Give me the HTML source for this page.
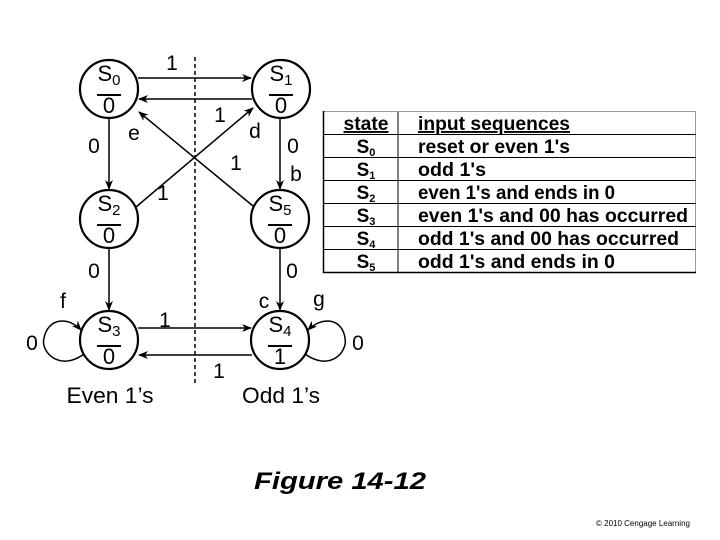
<!DOCTYPE html>
<html><head><style>body{margin:0;background:#fff}svg{display:block}</style></head><body>
<svg width="720" height="540" xmlns="http://www.w3.org/2000/svg" font-family="Liberation Sans, Arial, sans-serif">
<defs><marker id="a" markerWidth="10" markerHeight="8" refX="9" refY="4" orient="auto" markerUnits="userSpaceOnUse"><path d="M0,0 L10,4 L0,8 L3,4z" fill="#000"/></marker></defs>
<g stroke="#000" stroke-width="2.2" fill="none">
<circle cx="109" cy="89" r="29"/><circle cx="281" cy="89" r="29"/>
<circle cx="109" cy="219" r="29"/><circle cx="280" cy="219" r="29"/>
<circle cx="109" cy="340" r="29"/><circle cx="280" cy="340" r="29"/>
</g>
<line x1="195" y1="57" x2="195" y2="384" stroke="#000" stroke-width="1.5" stroke-dasharray="4,3"/>
<g stroke="#000" stroke-width="1.5" fill="none" marker-end="url(#a)">
<line x1="138" y1="78" x2="251" y2="78"/>
<line x1="252" y1="99" x2="139" y2="99"/>
<line x1="136" y1="207" x2="253" y2="108"/>
<line x1="253" y1="206" x2="139" y2="112"/>
<line x1="109" y1="118" x2="109" y2="189"/>
<line x1="280" y1="118" x2="280" y2="189"/>
<line x1="109" y1="248" x2="109" y2="310"/>
<line x1="280" y1="248" x2="280" y2="310"/>
<line x1="138" y1="328" x2="251" y2="328"/>
<line x1="252" y1="355" x2="139" y2="355"/>
<path d="M84,354 C60,372 40,352 44,338 C48,318 68,316 81,330"/>
<path d="M305,354 C330,372 348,352 345,338 C342,318 322,316 308,330"/>
</g>
<g font-size="22" text-anchor="middle">
<text x="109" y="81">S<tspan font-size="15" dy="4">0</tspan></text><text x="109" y="113">0</text>
<text x="281" y="81">S<tspan font-size="15" dy="4">1</tspan></text><text x="281" y="113">0</text>
<text x="109" y="211">S<tspan font-size="15" dy="4">2</tspan></text><text x="109" y="243">0</text>
<text x="280" y="211">S<tspan font-size="15" dy="4">5</tspan></text><text x="280" y="243">0</text>
<text x="109" y="332">S<tspan font-size="15" dy="4">3</tspan></text><text x="109" y="364">0</text>
<text x="280" y="332">S<tspan font-size="15" dy="4">4</tspan></text><text x="280" y="364">1</text>
</g>
<g stroke="#000" stroke-width="2">
<line x1="97" y1="95" x2="121" y2="95"/><line x1="269" y1="95" x2="293" y2="95"/>
<line x1="97" y1="225" x2="121" y2="225"/><line x1="268" y1="225" x2="292" y2="225"/>
<line x1="97" y1="346" x2="121" y2="346"/><line x1="268" y1="346" x2="292" y2="346"/>
</g>
<g font-size="21" text-anchor="middle">
<text x="172" y="70">1</text><text x="220" y="122">1</text><text x="236" y="170">1</text><text x="163" y="200">1</text>
<text x="134" y="140">e</text><text x="255" y="138">d</text>
<text x="94" y="153">0</text><text x="293" y="153">0</text><text x="296" y="181">b</text>
<text x="94" y="278">0</text><text x="292" y="278">0</text>
<text x="63" y="308">f</text><text x="264" y="308">c</text><text x="319" y="306">g</text>
<text x="165" y="327">1</text><text x="219" y="378">1</text>
<text x="32" y="350">0</text><text x="358" y="350">0</text>
<text x="110" y="403" font-size="22" textLength="87" lengthAdjust="spacingAndGlyphs">Even 1’s</text><text x="281" y="403" font-size="22" textLength="78" lengthAdjust="spacingAndGlyphs">Odd 1’s</text>
</g>
<g>
<rect x="323.5" y="111.5" width="372" height="161" fill="none" stroke="#999" stroke-width="1"/>
<line x1="323.5" y1="111" x2="323.5" y2="273" stroke="#000" stroke-width="1.5"/>
<line x1="323" y1="272.5" x2="696" y2="272.5" stroke="#000" stroke-width="1.5"/>
<line x1="398" y1="112" x2="398" y2="272" stroke="#000"/>
<g stroke="#000" stroke-width="1">
<line x1="323" y1="134.5" x2="696" y2="134.5"/><line x1="323" y1="157.5" x2="696" y2="157.5"/>
<line x1="323" y1="180.5" x2="696" y2="180.5"/><line x1="323" y1="203.5" x2="696" y2="203.5"/>
<line x1="323" y1="226.5" x2="696" y2="226.5"/><line x1="323" y1="249.5" x2="696" y2="249.5"/>
</g>
<g font-size="19" font-weight="bold">
<text x="366" y="130" text-anchor="middle" text-decoration="underline" textLength="45" lengthAdjust="spacingAndGlyphs">state</text>
<text x="418" y="130" text-decoration="underline" textLength="152" lengthAdjust="spacingAndGlyphs">input sequences</text>
<g text-anchor="middle">
<text x="366" y="153">S<tspan font-size="11" dy="3">0</tspan></text>
<text x="366" y="176">S<tspan font-size="11" dy="3">1</tspan></text>
<text x="366" y="199">S<tspan font-size="11" dy="3">2</tspan></text>
<text x="366" y="222">S<tspan font-size="11" dy="3">3</tspan></text>
<text x="366" y="245">S<tspan font-size="11" dy="3">4</tspan></text>
<text x="366" y="268">S<tspan font-size="11" dy="3">5</tspan></text>
</g>
<text x="418" y="153" textLength="152" lengthAdjust="spacingAndGlyphs">reset or even 1's</text>
<text x="418" y="176" textLength="68" lengthAdjust="spacingAndGlyphs">odd 1's</text>
<text x="418" y="199" textLength="197" lengthAdjust="spacingAndGlyphs">even 1's and ends in 0</text>
<text x="418" y="222" textLength="270" lengthAdjust="spacingAndGlyphs">even 1's and 00 has occurred</text>
<text x="418" y="245" textLength="261" lengthAdjust="spacingAndGlyphs">odd 1's and 00 has occurred</text>
<text x="418" y="268" textLength="197" lengthAdjust="spacingAndGlyphs">odd 1's and ends in 0</text>
</g>
</g>
<text x="340" y="489" font-size="24" font-weight="bold" font-style="italic" text-anchor="middle" textLength="172" lengthAdjust="spacingAndGlyphs">Figure 14-12</text>
<text x="596" y="526" font-size="8">© 2010 Cengage Learning</text>
</svg>
</body></html>
